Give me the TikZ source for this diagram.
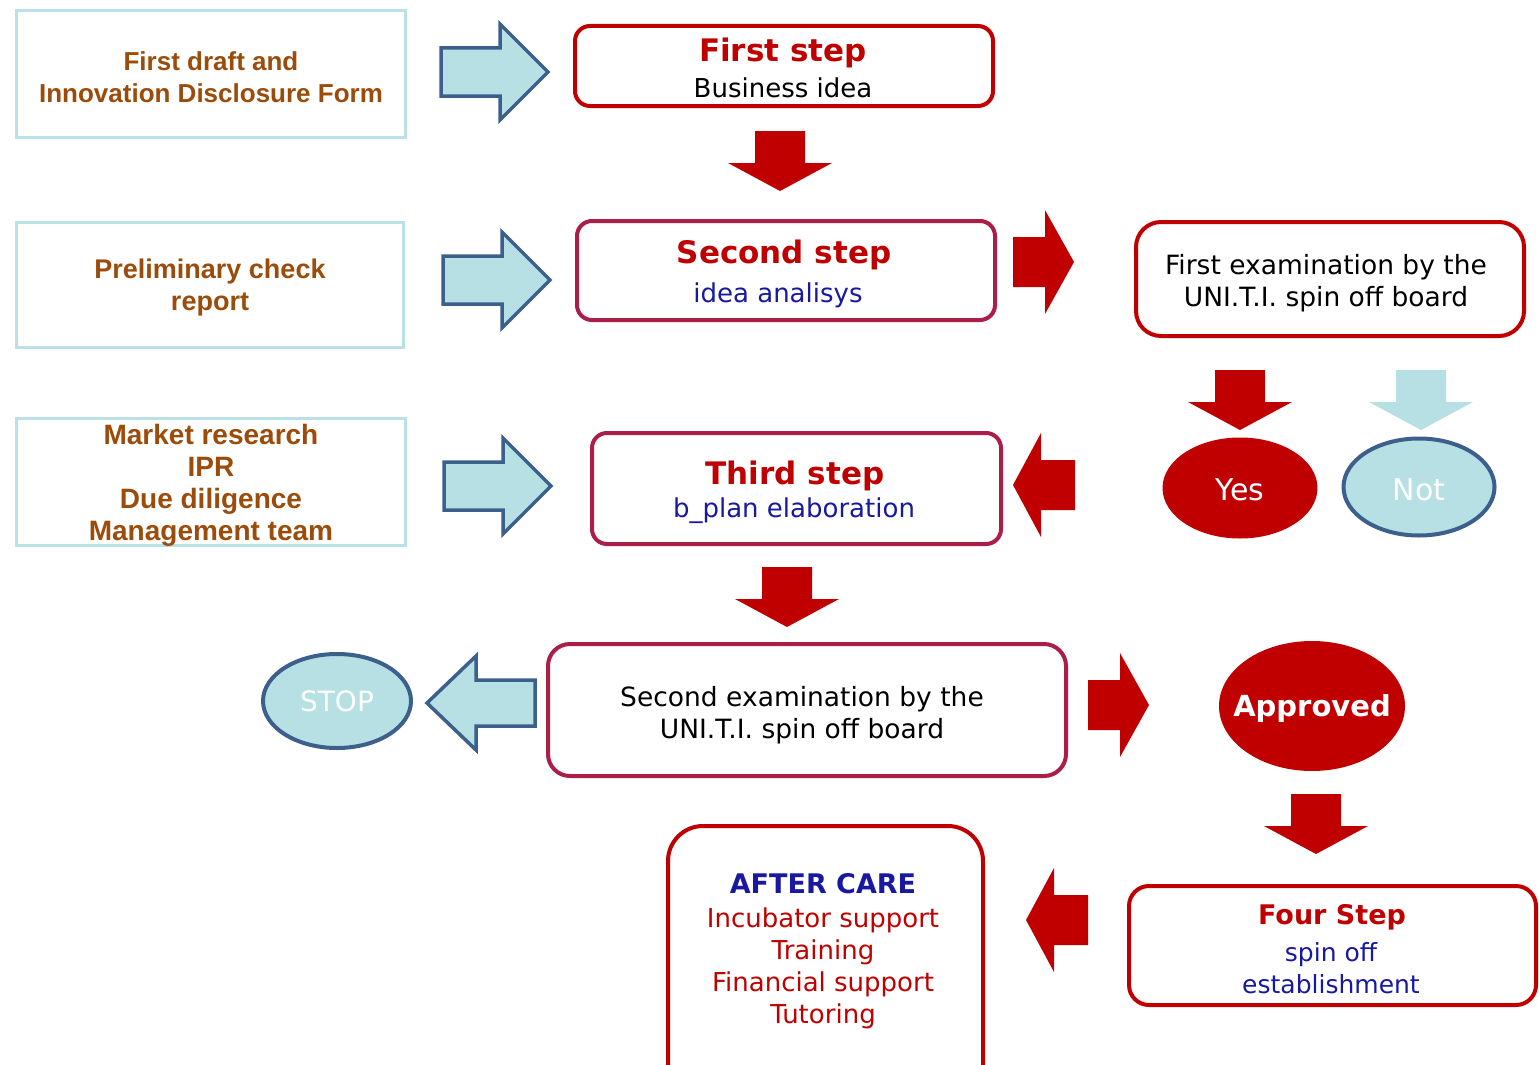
\documentclass[tikz,border=0pt]{standalone}
\usepackage{fontspec}
\setmainfont{DejaVu Sans}
\newfontfamily\leftfont{Liberation Sans}
\usetikzlibrary{shapes.geometric}
\definecolor{cred}{RGB}{192,0,0}
\definecolor{cmaroon}{RGB}{170,30,72}
\definecolor{cbrown}{RGB}{155,76,10}
\definecolor{cblue}{RGB}{24,24,160}
\definecolor{clblue}{RGB}{183,224,228}
\definecolor{cdblue}{RGB}{60,95,140}
\definecolor{cboxline}{RGB}{186,225,230}
\newcommand\myfs[2]{\fontsize{#1}{#2}\selectfont}
\tikzset{
  leftbox/.style={draw=cboxline, line width=3pt, fill=white, inner sep=0pt},
  stepbox/.style={draw=#1, line width=4pt, fill=white, rounded corners=15pt, inner sep=0pt},
  bodytxt/.style={font=\myfs{26}{32}, align=center, inner sep=0pt},
  lefttxt/.style={font=\leftfont\bfseries\myfs{#1}{32}, text=cbrown, align=center, inner sep=0pt},
  titletxt/.style={font=\bfseries\myfs{31}{36}, text=cred, inner sep=0pt},
  ovalred/.style={ellipse, fill=cred, inner sep=0pt},
  ovalblue/.style={ellipse, fill=clblue, draw=cdblue, line width=4pt, inner sep=0pt},
  ovaltxt/.style={text=white, inner sep=0pt},
  pics/reddown/.style={code={
    \fill[#1] (-25,0) -- (25,0) -- (25,32) -- (52,32) -- (0,60) -- (-52,32) -- (-25,32) -- cycle;}},
  pics/redright/.style={code={
    \fill[cred] (0,-25) -- (32,-25) -- (32,-52) -- (61,0) -- (32,52) -- (32,25) -- (0,25) -- cycle;}},
  pics/redleft/.style={code={
    \fill[cred] (0,-25) -- (-34,-25) -- (-34,-52) -- (-62,0) -- (-34,52) -- (-34,25) -- (0,25) -- cycle;}},
  pics/blueright/.style={code={
    \draw[fill=clblue, draw=cdblue, line width=3.5pt, line join=miter]
      (0,-24) -- (59,-24) -- (59,-48) -- (107,0) -- (59,48) -- (59,24) -- (0,24) -- cycle;}},
  pics/blueleft/.style={code={
    \draw[fill=clblue, draw=cdblue, line width=3.5pt, line join=miter]
      (0,-23) -- (-59,-23) -- (-59,-47) -- (-108,0) -- (-59,47) -- (-59,23) -- (0,23) -- cycle;}},
}
\begin{document}
\begin{tikzpicture}[x=1pt,y=-1pt]
\useasboundingbox (0,0) rectangle (1539,1065);
\clip (0,0) rectangle (1539,1065);
\fill[white] (0,0) rectangle (1539,1065);

% left boxes
\node[leftbox, minimum width=389pt, minimum height=127pt] (lb1) at (211,74) {};
\node[leftbox, minimum width=387pt, minimum height=125pt] (lb2) at (210,285) {};
\node[leftbox, minimum width=389pt, minimum height=127pt] (lb3) at (211,482) {};
\node[lefttxt=26] (lt1) at (211,77) {First draft and\\Innovation Disclosure Form};
\node[lefttxt=27] (lt2) at (210,288) {Preliminary check\\report};
\node[lefttxt=28] (lt3) at (211,485) {Market research\\IPR\\Due diligence\\Management team};

% blue right arrows
\pic at (441,72) {blueright};
\pic at (443,280) {blueright};
\pic at (444,486) {blueright};

% step boxes
\node[stepbox=cred, minimum width=418pt, minimum height=80pt] (s1) at (784,66) {};
\node[titletxt] (s1t) at (783,53) {First step};
\node[bodytxt] (s1b) at (783,88) {Business idea};

\node[stepbox=cmaroon, minimum width=418pt, minimum height=99pt] (s2) at (786,270.5) {};
\node[titletxt] (s2t) at (784,255) {Second step};
\node[bodytxt, text=cblue] (s2b) at (778,295) {idea analisys};

\node[stepbox=cmaroon, minimum width=409pt, minimum height=111pt] (s3) at (796.5,488.5) {};
\node[titletxt] (s3t) at (795,476) {Third step};
\node[bodytxt, text=cblue] (s3b) at (794,511) {b\_plan elaboration};

\node[stepbox=cmaroon, rounded corners=22pt, minimum width=518pt, minimum height=132pt] (e2) at (807,710) {};
\node[bodytxt, font=\myfs{26.5}{32}] (e2t) at (802,715) {Second examination by the\\UNI.T.I. spin off board};

\node[stepbox=cred, rounded corners=25pt, minimum width=388pt, minimum height=114pt] (e1) at (1330,279) {};
\node[bodytxt, font=\myfs{26.5}{32}] (e1t) at (1326,283) {First examination by the\\UNI.T.I. spin off board};

\node[stepbox=cred, rounded corners=20pt, minimum width=407pt, minimum height=119pt] (f4) at (1332.5,945.5) {};
\node[titletxt, font=\bfseries\myfs{27}{32}] (f4t) at (1332,917) {Four Step};
\node[bodytxt, font=\myfs{25}{32}, text=cblue] (f4b) at (1331,968) {spin off\\establishment};

\node[stepbox=cred, rounded corners=35pt, minimum width=315pt, minimum height=280pt] (ac) at (825.5,966) {};
\node[inner sep=0pt, font=\bfseries\myfs{27}{32}, text=cblue] (act) at (823,884) {AFTER CARE};
\node[bodytxt, text=cred] (acb) at (823,968) {Incubator support\\Training\\Financial support\\Tutoring};

% ovals
\node[ovalred, minimum width=155pt, minimum height=101pt] (yes) at (1240,488) {};
\node[ovaltxt, font=\myfs{30}{36}] (yest) at (1240,490) {Yes};
\node[ovalblue, minimum width=151pt, minimum height=97pt] (not) at (1419,487) {};
\node[ovaltxt, font=\myfs{30}{36}] (nott) at (1419,490) {Not};
\node[ovalblue, minimum width=148pt, minimum height=94pt] (stop) at (337,701) {};
\node[ovaltxt, font=\myfs{28}{34}] (stopt) at (stop) {STOP};
\node[ovalred, minimum width=186pt, minimum height=130pt] (appr) at (1312,706) {};
\node[ovaltxt, font=\bfseries\myfs{29}{34}] (apprt) at (1312,708) {Approved};

% red / light-blue block arrows
\pic at (780,131) {reddown=cred};
\pic at (1240,370) {reddown=cred};
\pic at (1421,370) {reddown=clblue};
\pic at (787,567) {reddown=cred};
\pic at (1316,794) {reddown=cred};
\pic at (1013,262) {redright};
\pic at (1088,705) {redright};
\pic at (1075,485) {redleft};
\pic at (1088,920) {redleft};
\pic at (535,703) {blueleft};
\end{tikzpicture}
\end{document}
